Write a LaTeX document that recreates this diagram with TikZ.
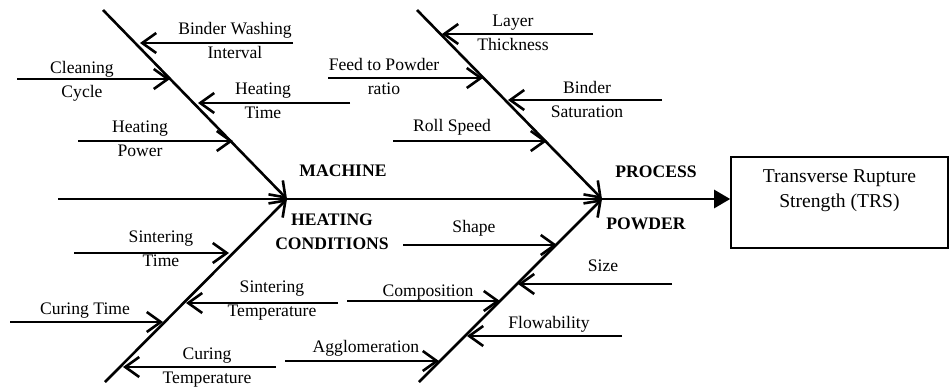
\documentclass[tikz,border=0pt]{standalone}
\usepackage{fontspec}
\setmainfont{Liberation Serif}
\usepackage{tikz}
\usetikzlibrary{arrows.meta}

\newcommand{\fishfont}{\fontsize{8.8}{12}\selectfont}
\newcommand{\boxfont}{\fontsize{9.8}{12.5}\selectfont}

\tikzset{
  spine/.style={line width=1.3pt, -{Triangle[length=8pt,width=9pt]}},
  bone/.style={line width=1.3pt, -{Straight Barb[length=7pt,width=10pt]}},
  cause/.style={line width=1.3pt, -{Straight Barb[length=7pt,width=10pt]}},
  lbl/.style={font=\fishfont, align=center, inner sep=0pt,
    execute at begin node=\strut, execute at end node=\strut},
  group/.style={lbl, font=\fishfont\bfseries},
  resultbox/.style={draw, line width=0.8pt, font=\boxfont, align=center,
    inner sep=0pt, minimum width=108.5pt, minimum height=45.5pt,
    execute at begin node=\strut,
    execute at end node={\rule[-13.75pt]{0pt}{13.75pt}}},
}

\begin{document}
\begin{tikzpicture}[x=0.5pt, y=-0.5pt]
  \useasboundingbox (0,0) rectangle (950,387);

  % Effect box and main spine
  \node[resultbox] (trs) at (839.5,202.5) {Transverse Rupture\\Strength (TRS)};
  \coordinate (tail) at (58,199);
  \draw[spine] (tail) -- (tail -| trs.west);

  % Four main bones
  \coordinate (jm) at (287,199);
  \coordinate (jp) at (602,199);
  \coordinate (m-top) at (103,10);
  \coordinate (p-top) at (417,10);
  \coordinate (h-bot) at (105,382);
  \coordinate (w-bot) at (419,382);
  \draw[bone] (m-top) -- (jm);
  \draw[bone] (h-bot) -- (jm);
  \draw[bone] (p-top) -- (jp);
  \draw[bone] (w-bot) -- (jp);

  % Cause arrows: name/start x/end x/y
  \foreach \nm/\xa/\xb/\y in {bwi/293/140/43, cc/17/170/79, ht/350/198/103,
      hp/78/233/141, lt/593/442/34, fpr/328/483/78, bs/662/508/100,
      rs/393/547/141, st/74/229/253, stemp/338/186/303, ct/10/163/322,
      ctemp/276/123/367, shape/403/557/245, size/672/518/284,
      comp/347/500/301, flow/622/467/336, aggl/285/439/361}
  {
    \coordinate (\nm-a) at (\xa,\y);
    \coordinate (\nm-b) at (\xb,\y);
    \draw[cause] (\nm-a) -- (\nm-b);
  }

  % Group names
  \node[group] (machine) at (343,172) {MACHINE};
  \node[group] (process) at (656,173) {PROCESS};
  \node[group] (heating) at (332,235) {HEATING\\CONDITIONS};
  \node[group] (powder)  at (646,225) {POWDER};

  % Machine causes
  \node[lbl] (bwi) at (235,44)  {Binder Washing\\Interval};
  \node[lbl] (cc)  at (82,83)   {Cleaning\\Cycle};
  \node[lbl] (ht)  at (263,104) {Heating\\Time};
  \node[lbl] (hp)  at (140,142) {Heating\\Power};

  % Process causes
  \node[lbl] (lt)  at (513,36)  {Layer\\Thickness};
  \node[lbl] (fpr) at (384,80)  {Feed to Powder\\ratio};
  \node[lbl] (bs)  at (587,103) {Binder\\Saturation};
  \node[lbl] (rs)  at (452,127) {Roll Speed};

  % Heating condition causes
  \node[lbl] (st)    at (161,252) {Sintering\\Time};
  \node[lbl] (stemp) at (272,302) {Sintering\\Temperature};
  \node[lbl] (ct)    at (85,310)  {Curing Time};
  \node[lbl] (ctemp) at (207,369) {Curing\\Temperature};

  % Powder causes
  \node[lbl] (shape) at (474,228) {Shape};
  \node[lbl] (size)  at (603,267) {Size};
  \node[lbl] (comp)  at (428,292) {Composition};
  \node[lbl] (flow)  at (549,324) {Flowability};
  \node[lbl] (aggl)  at (366,348) {Agglomeration};
\end{tikzpicture}
\end{document}
